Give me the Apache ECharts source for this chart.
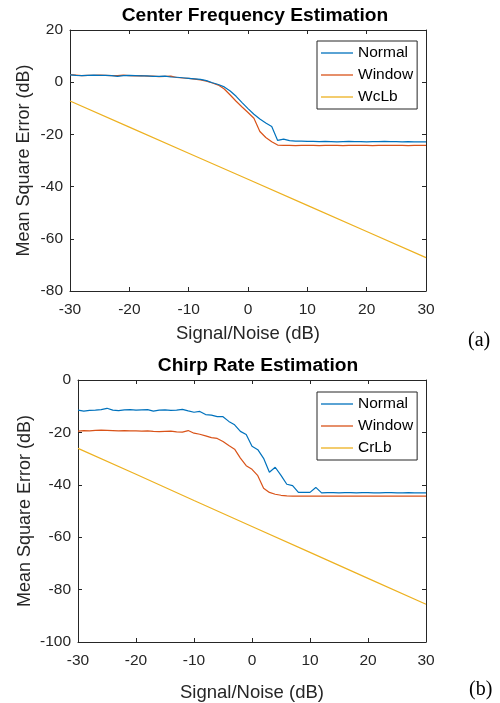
<!DOCTYPE html>
<html>
<head>
<meta charset="utf-8">
<script src="https://cdn.jsdelivr.net/npm/echarts@6/dist/echarts.min.js"></script>
<style>
  html, body { margin: 0; padding: 0; background: #fff; }
  #chart { width: 500px; height: 703px; }
</style>
</head>
<body>
<div id="chart"></div>
<script>
// x 轴：信噪比 (dB)
var snr = [-30, -29, -28, -27, -26, -25, -24, -23, -22, -21, -20, -19, -18, -17, -16, -15, -14, -13, -12, -11,
    -10, -9, -8, -7, -6, -5, -4, -3, -2, -1, 0, 1, 2, 3, 4, 5, 6, 7, 8, 9,
    10, 11, 12, 13, 14, 15, 16, 17, 18, 19, 20, 21, 22, 23, 24, 25, 26, 27, 28, 29, 30];

// (a) 中心频率估计
var cfNormal = [2.8, 2.6, 2.5, 2.6, 2.7, 2.6, 2.6, 2.5, 2.2, 2.5, 2.6, 2.5, 2.4, 2.4, 2.2, 2.2, 2.3, 2.0, 1.9, 1.7,
    1.5, 1.3, 1.1, 0.6, -0.2, -0.9, -1.8, -3.4, -5.4, -7.8, -10.1, -12.3, -14.1, -15.6, -17.0, -22.3, -21.8, -22.4, -22.6, -22.6,
    -22.7, -22.7, -22.8, -22.7, -22.8, -22.9, -22.8, -22.7, -22.8, -22.8, -22.9, -22.8, -22.8, -22.7, -22.8, -22.8, -22.9, -22.8, -22.9, -22.9, -22.9];
var cfWindow = [2.9, 2.7, 2.5, 2.6, 2.6, 2.7, 2.6, 2.5, 2.5, 2.7, 2.5, 2.4, 2.5, 2.3, 2.3, 2.1, 2.2, 2.3, 1.8, 1.6,
    1.5, 1.2, 0.9, 0.4, -0.3, -1.1, -2.6, -4.9, -7.3, -9.5, -11.6, -13.8, -18.9, -21.2, -22.8, -24.1, -24.2, -24.2, -24.3, -24.2,
    -24.2, -24.2, -24.3, -24.2, -24.2, -24.2, -24.3, -24.2, -24.2, -24.2, -24.2, -24.3, -24.2, -24.2, -24.2, -24.2, -24.2, -24.3, -24.2, -24.2, -24.2];
var boundSnr = [-30, -20, -10, 0, 10, 20, 30];
var wcLb = [-7.2, -17.2, -27.2, -37.2, -47.2, -57.2, -67.2];

// (b) 调频率估计
var crNormal = [-11.5, -11.9, -11.6, -11.5, -11.3, -10.8, -11.5, -11.7, -11.4, -11.3, -11.5, -11.4, -11.3, -11.9, -11.5, -11.4, -11.6, -11.5, -11.2, -11.8,
    -12.3, -12.0, -13.2, -13.4, -14.0, -14.0, -15.8, -17.1, -19.6, -20.8, -25.3, -26.6, -29.9, -35.2, -33.3, -36.4, -39.8, -40.3, -42.9, -42.9,
    -42.9, -41.0, -43.1, -43.0, -43.0, -43.1, -43.0, -43.0, -43.1, -43.0, -43.0, -43.1, -43.1, -43.0, -43.0, -43.1, -43.1, -43.0, -43.1, -43.1, -43.1];
var crWindow = [-19.5, -19.3, -19.4, -19.2, -19.1, -19.2, -19.3, -19.4, -19.3, -19.4, -19.4, -19.5, -19.4, -19.6, -19.7, -19.6, -19.5, -19.8, -19.9, -19.3,
    -20.3, -20.7, -21.3, -22.0, -22.3, -23.5, -25.0, -26.4, -29.8, -32.7, -34.1, -36.5, -41.3, -42.9, -43.6, -44.0, -44.2, -44.3, -44.3, -44.3,
    -44.3, -44.3, -44.3, -44.3, -44.3, -44.3, -44.3, -44.3, -44.3, -44.3, -44.3, -44.3, -44.3, -44.3, -44.3, -44.3, -44.3, -44.3, -44.3, -44.3, -44.3];
var crLb = [-26.1, -36.0, -46.0, -55.9, -65.8, -75.7, -85.6];

var xTicks = [-30, 30, 10];
var yTicksA = [-80, 20, 20];
var yTicksB = [-100, 0, 20];

(function() {
    var myChart = echarts.init(document.getElementById("chart"));
    var ink = "#262626";
    var font = "Liberation Sans, Arial, Helvetica, sans-serif";
    var serif = "Liberation Serif, Times New Roman, serif";
    var colors = ["#0072BD", "#D95319", "#EDB120"];

    function pairs(xs, ys) {
        return xs.map(function(x, i) { return [x, ys[i]]; });
    }

    function xAxis(grid, pos, showLabel, name, gap) {
        return {
            type: "value",
            gridIndex: grid,
            position: pos,
            min: xTicks[0], max: xTicks[1], interval: xTicks[2],
            axisLine: { show: true, onZero: false, lineStyle: { color: ink, width: 1 } },
            axisTick: { show: true, inside: true, length: 4, lineStyle: { color: ink } },
            splitLine: { show: false },
            axisLabel: { show: showLabel, color: ink, fontSize: 15.5, fontFamily: font, margin: 11 },
            name: name || "",
            nameLocation: "middle",
            nameGap: gap || 0,
            nameTextStyle: { color: ink, fontSize: 18.5, fontFamily: font }
        };
    }

    function yAxis(grid, pos, ticks, showLabel, name, gap) {
        return {
            type: "value",
            gridIndex: grid,
            position: pos,
            min: ticks[0], max: ticks[1], interval: ticks[2],
            axisLine: { show: true, onZero: false, lineStyle: { color: ink, width: 1 } },
            axisTick: { show: true, inside: true, length: 4, lineStyle: { color: ink } },
            splitLine: { show: false },
            axisLabel: { show: showLabel, color: ink, fontSize: 15.5, fontFamily: font, margin: 7 },
            name: name || "",
            nameLocation: "middle",
            nameGap: gap || 0,
            nameMoveOverlap: false,
            nameTextStyle: { color: ink, fontSize: 18, fontFamily: font }
        };
    }

    function line(name, xi, yi, data, c) {
        return {
            name: name,
            type: "line",
            xAxisIndex: xi,
            yAxisIndex: yi,
            data: data,
            symbol: "none",
            showSymbol: false,
            lineStyle: { width: 1.2, color: c },
            itemStyle: { color: c }
        };
    }

    function legend(top, names) {
        return {
            orient: "vertical",
            left: 317,
            top: top,
            data: names,
            icon: "rect",
            itemWidth: 32,
            itemHeight: 1.3,
            itemGap: 6,
            padding: [4, 4, 4, 4],
            borderColor: ink,
            borderWidth: 1,
            borderRadius: 0,
            backgroundColor: "#fff",
            textStyle: { color: "#000", fontSize: 15.5, lineHeight: 15, fontFamily: font },
            selectedMode: false
        };
    }

    var option = {
        backgroundColor: "#fff",
        animation: false,
        title: [
            {
                text: "Center Frequency Estimation",
                left: 250, top: 1, textAlign: "center",
                textStyle: { color: "#000", fontSize: 19.2, fontWeight: "bold", fontFamily: font }
            },
            {
                text: "Chirp Rate Estimation",
                left: 253, top: 351, textAlign: "center",
                textStyle: { color: "#000", fontSize: 19.2, fontWeight: "bold", fontFamily: font }
            }
        ],
        grid: [
            { left: 70, top: 30, width: 356, height: 261 },
            { left: 78, top: 380, width: 348, height: 262 }
        ],
        xAxis: [
            xAxis(0, "bottom", true, "Signal/Noise (dB)", 33),
            xAxis(0, "top", false),
            xAxis(1, "bottom", true, "Signal/Noise (dB)", 41),
            xAxis(1, "top", false)
        ],
        yAxis: [
            yAxis(0, "left", yTicksA, true, "Mean Square Error (dB)", 37),
            yAxis(0, "right", yTicksA, false),
            yAxis(1, "left", yTicksB, true, "Mean Square Error (dB)", 44),
            yAxis(1, "right", yTicksB, false)
        ],
        legend: [
            legend(41, ["Normal", "Window", "WcLb"]),
            legend(392, ["Normal", "Window", "CrLb"])
        ],
        series: [
            line("WcLb", 0, 0, pairs(boundSnr, wcLb), colors[2]),
            line("Window", 0, 0, pairs(snr, cfWindow), colors[1]),
            line("Normal", 0, 0, pairs(snr, cfNormal), colors[0]),
            line("CrLb", 2, 2, pairs(boundSnr, crLb), colors[2]),
            line("Window", 2, 2, pairs(snr, crWindow), colors[1]),
            line("Normal", 2, 2, pairs(snr, crNormal), colors[0])
        ],
        graphic: [
            { type: "text", left: 468, top: 331, style: { text: "(a)", fontSize: 20, fontFamily: serif, fill: "#000" } },
            { type: "text", left: 469, top: 680, style: { text: "(b)", fontSize: 20, fontFamily: serif, fill: "#000" } }
        ]
    };

    myChart.setOption(option);
    window.addEventListener("resize", function() {
        myChart.resize();
    });
})();
</script>
</body>
</html>
